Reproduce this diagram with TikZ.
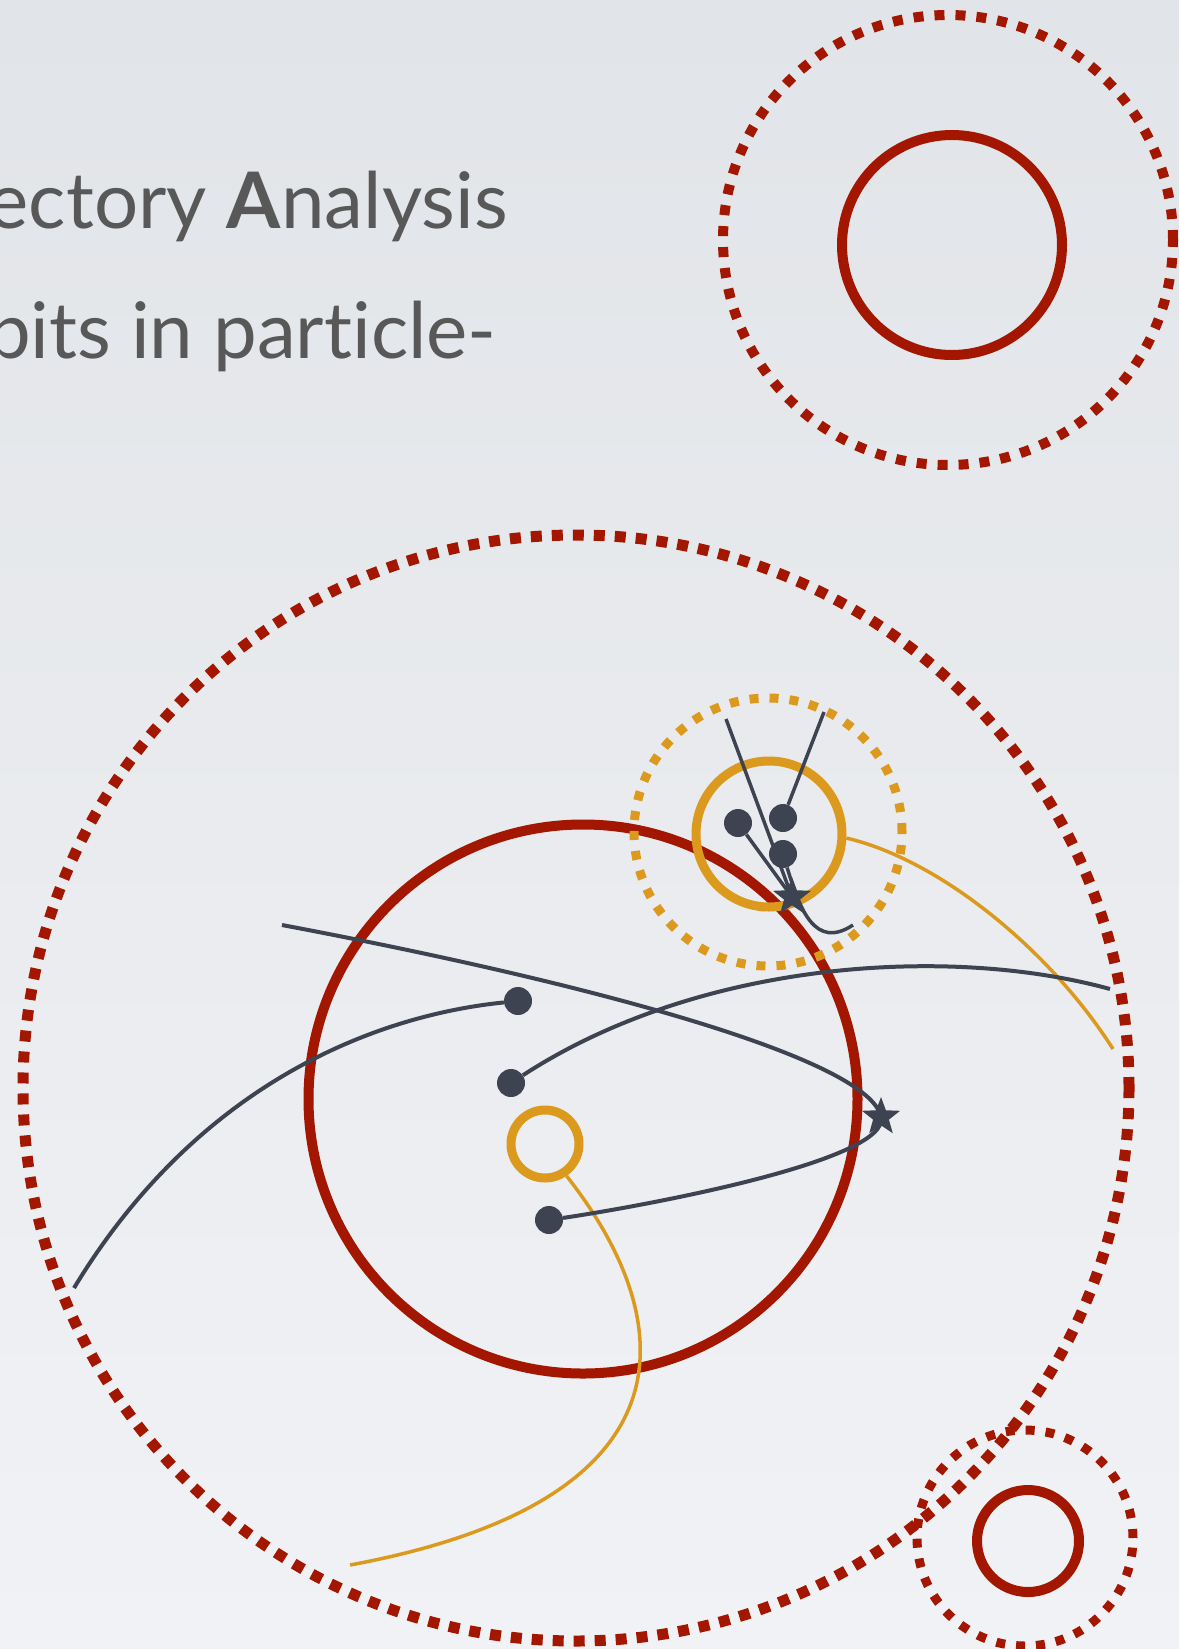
\documentclass[tikz,border=0pt]{standalone}
\usepackage{fontspec}
\setmainfont{Lato}[Ligatures=NoCommon]
\usetikzlibrary{shapes.geometric, positioning}
\definecolor{brick}{HTML}{A31600}
\definecolor{amber}{HTML}{DB9A1E}
\definecolor{slate}{HTML}{3D4350}
\definecolor{inkgray}{HTML}{585858}
\definecolor{bgtop}{HTML}{E1E4E8}
\definecolor{bgbot}{HTML}{F1F2F5}
\begin{document}
\begin{tikzpicture}[x=1pt,y=-1pt,
  orbit/.style={circle,draw=brick,line width=10pt,inner sep=0pt},
  halo/.style={circle,draw=brick,line width=10pt,dash pattern=on 10pt off 11pt,inner sep=0pt},
  ohalo/.style={circle,draw=amber,line width=9pt,dash pattern=on 9pt off 11pt,inner sep=0pt},
  oring/.style={circle,draw=amber,line width=9pt,inner sep=0pt},
  dot/.style={circle,fill=slate,inner sep=0pt,minimum size=28pt},
  hit/.style={star,star points=5,star point ratio=2.4,fill=slate,inner sep=0pt,minimum size=40pt},
  traj/.style={draw=slate,line width=4pt},
  otraj/.style={draw=amber,line width=3.5pt},
  caption/.style={anchor=base east,text=inkgray,inner sep=0pt,font=\fontsize{78}{90}\selectfont}
]
  \useasboundingbox (0,0) rectangle (1179,1649);
  \clip (0,0) rectangle (1179,1649);
  \fill[top color=bgtop,bottom color=bgbot] (0,0) rectangle (1179,1649);

  % text
  \node[caption] (title) at (508,228) {ectory \textbf{A}nalysis};
  \node[caption] (sub)   at (497,358) {bits in particle-};

  % top right
  \node[halo,minimum size=450pt]  (hTR) at (948,240) {};
  \node[orbit,minimum size=220pt] (oTR) at (952,245) {};

  % bottom right
  \node[halo,line width=9pt,dash pattern=on 9pt off 11pt,minimum size=216pt] (hBR) at (1025,1538) {};
  \node[orbit,minimum size=102pt] (oBR) at (1028,1541) {};

  % main
  \node[halo,line width=11pt,dash pattern=on 11pt off 10pt,minimum size=1106pt] (hMain) at (576,1088) {};
  \node[orbit,minimum size=549pt] (oMain) at (583,1099) {};

  % amber cluster
  \node[ohalo,minimum size=268pt] (hAmb) at (768,832) {};
  \node[oring,minimum size=146pt] (oAmb) at (769,834) {};
  \node[oring,minimum size=68pt]  (seed) at (545,1144) {};

  \coordinate (oEndA) at (1113,1049);
  \coordinate (oEndB) at (350,1565);
  \draw[otraj] (oAmb.-3) .. controls (940,860) and (1050,950) .. (oEndA);
  \draw[otraj] (seed.-56) .. controls (680,1320) and (700,1500) .. (oEndB);

  % tracks in the cluster
  \node[dot] (d1) at (738,823) {};
  \node[dot] (d2) at (783,818) {};
  \node[dot] (d3) at (783,854) {};
  \node[hit] (s1) at (792,897) {};
  \coordinate (tA) at (726,719);
  \coordinate (tB) at (824,712);
  \coordinate (tC) at (853,925);
  \draw[traj,line width=3.5pt] (tA) -- (s1.center);
  \draw[traj,line width=3.5pt] (d2) -- (tB);
  \draw[traj,line width=3.5pt] (d1) -- (s1.center);
  \draw[traj,line width=3.5pt] (d3) .. controls (800,910) and (815,950) .. (tC);

  % tracks in the main orbit
  \node[dot] (pa) at (518,1001) {};
  \node[dot] (pb) at (511,1083) {};
  \node[dot] (pc) at (549,1220) {};
  \node[hit] (s2) at (881,1117) {};
  \coordinate (tD) at (282,925);
  \coordinate (tE) at (74,1288);
  \coordinate (tF) at (1110,989);
  \draw[traj] (tD) .. controls (600,985) and (870,1060) .. (s2.center)
                   .. controls (890,1160) and (650,1205) .. (pc);
  \draw[traj] (pa) .. controls (380,1015) and (200,1080) .. (tE);
  \draw[traj] (pb) .. controls (700,960) and (950,945) .. (tF);
\end{tikzpicture}
\end{document}
